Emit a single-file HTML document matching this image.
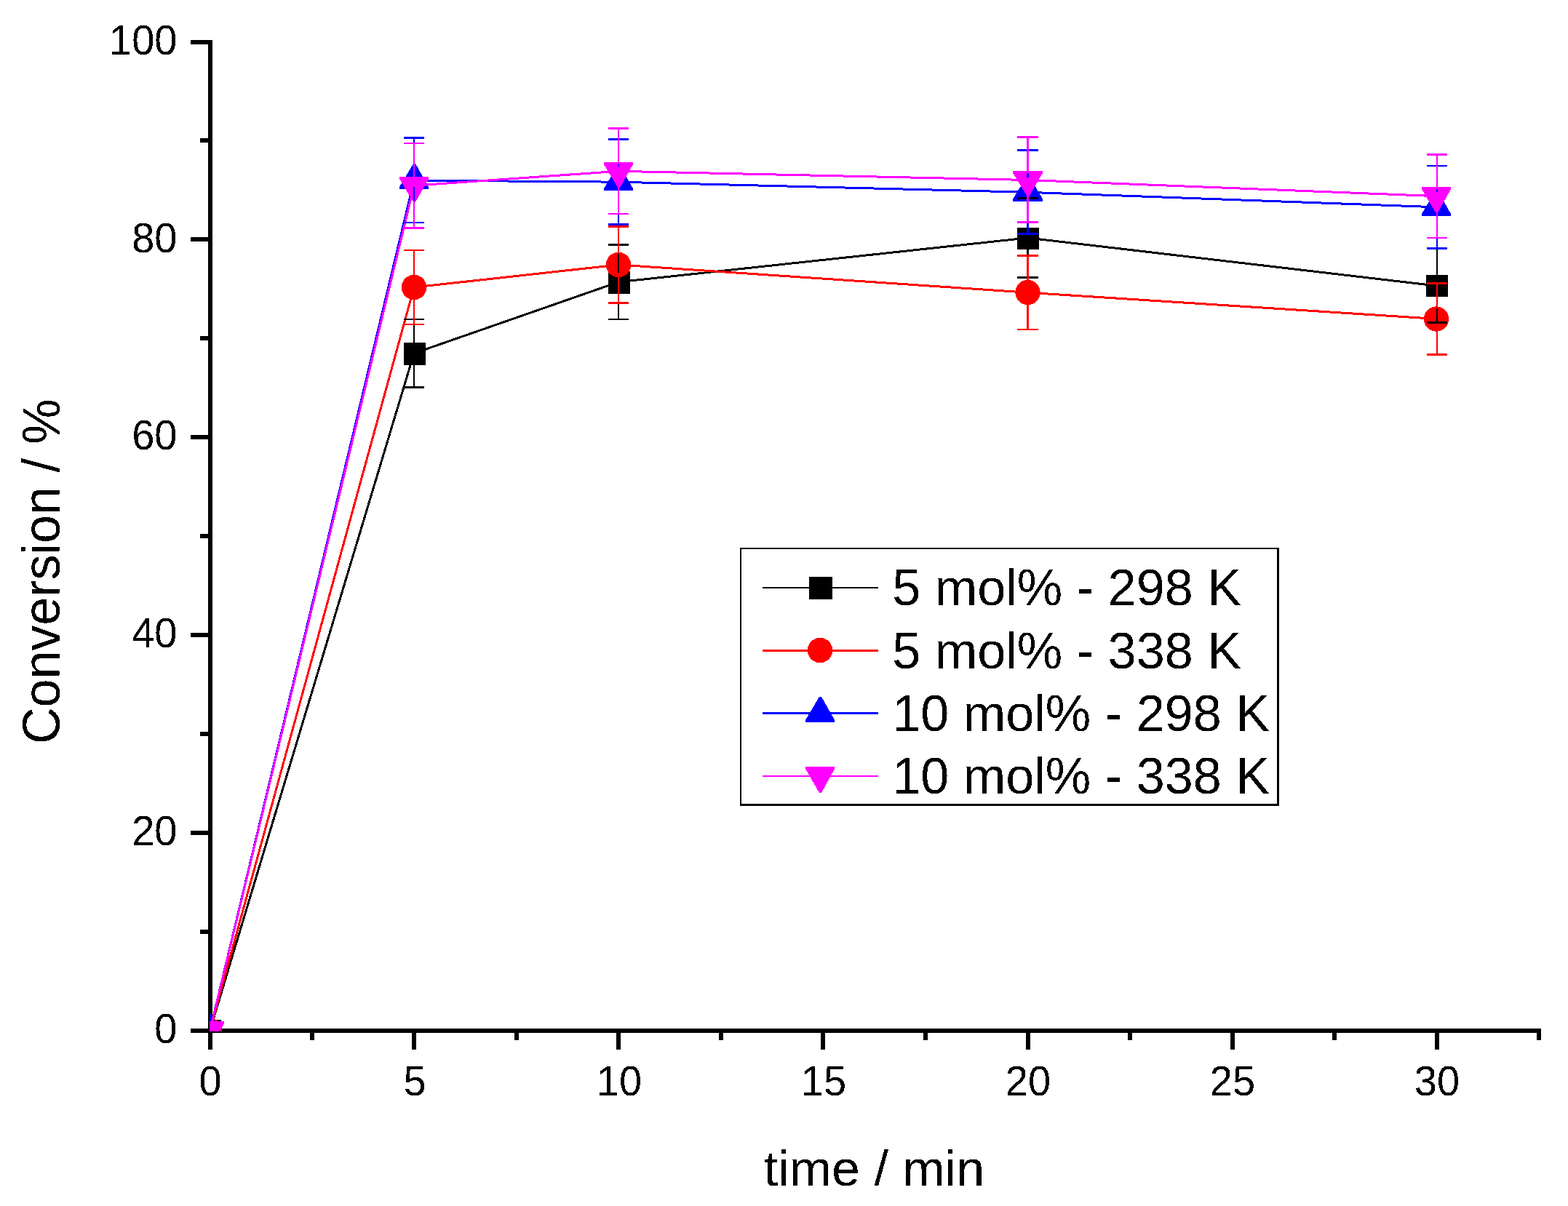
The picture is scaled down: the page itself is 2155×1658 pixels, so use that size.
<!DOCTYPE html>
<html lang="en"><head><meta charset="utf-8"><title>Conversion vs time</title>
<style>
html,body{margin:0;padding:0;background:#fff;}
body{width:2155px;height:1658px;overflow:hidden;}
svg{display:block;}
text{font-family:"Liberation Sans",Arial,Helvetica,sans-serif;fill:#000;}
.tk{font-size:56px;}
.tt{font-size:70px;}
.lg{font-size:70.2px;}
</style></head><body>
<svg width="2155" height="1658" viewBox="0 0 2155 1658">
<rect x="0" y="0" width="2155" height="1658" fill="#ffffff"/>
<defs><filter id="bin" x="0" y="0" width="100%" height="100%" filterUnits="userSpaceOnUse" color-interpolation-filters="sRGB"><feComponentTransfer><feFuncA type="discrete" tableValues="0 1"/></feComponentTransfer></filter></defs>
<g fill="#000" shape-rendering="crispEdges">
<rect x="286" y="55" width="6" height="1388"/>
<rect x="262" y="1414" width="1856" height="6"/>
<rect x="262" y="1414" width="26" height="6"/>
<rect x="275" y="1278" width="13" height="6"/>
<rect x="262" y="1142" width="26" height="6"/>
<rect x="275" y="1006" width="13" height="6"/>
<rect x="262" y="870" width="26" height="6"/>
<rect x="275" y="734" width="13" height="6"/>
<rect x="262" y="598" width="26" height="6"/>
<rect x="275" y="462" width="13" height="6"/>
<rect x="262" y="326" width="26" height="6"/>
<rect x="275" y="190" width="13" height="6"/>
<rect x="262" y="55" width="26" height="6"/>
<rect x="426" y="1417" width="6" height="13"/>
<rect x="566" y="1417" width="6" height="26"/>
<rect x="707" y="1417" width="6" height="13"/>
<rect x="847" y="1417" width="6" height="26"/>
<rect x="988" y="1417" width="6" height="13"/>
<rect x="1128" y="1417" width="6" height="26"/>
<rect x="1269" y="1417" width="6" height="13"/>
<rect x="1410" y="1417" width="6" height="26"/>
<rect x="1550" y="1417" width="6" height="13"/>
<rect x="1691" y="1417" width="6" height="26"/>
<rect x="1831" y="1417" width="6" height="13"/>
<rect x="1972" y="1417" width="6" height="26"/>
<rect x="2112" y="1417" width="6" height="13"/>
</g>
<g class="tk" filter="url(#bin)">
<text transform="translate(243.5,1434.2) scale(1,1.04)" text-anchor="end">0</text>
<text transform="translate(243.5,1162.2) scale(1,1.04)" text-anchor="end">20</text>
<text transform="translate(243.5,890.2) scale(1,1.04)" text-anchor="end">40</text>
<text transform="translate(243.5,618.2) scale(1,1.04)" text-anchor="end">60</text>
<text transform="translate(243.5,347.2) scale(1,1.04)" text-anchor="end">80</text>
<text transform="translate(243.5,75.2) scale(1,1.04)" text-anchor="end">100</text>
<text transform="translate(289.0,1505.6) scale(1,1.04)" text-anchor="middle">0</text>
<text transform="translate(570.0,1505.6) scale(1,1.04)" text-anchor="middle">5</text>
<text transform="translate(851.0,1505.6) scale(1,1.04)" text-anchor="middle">10</text>
<text transform="translate(1132.0,1505.6) scale(1,1.04)" text-anchor="middle">15</text>
<text transform="translate(1413.0,1505.6) scale(1,1.04)" text-anchor="middle">20</text>
<text transform="translate(1694.0,1505.6) scale(1,1.04)" text-anchor="middle">25</text>
<text transform="translate(1975.0,1505.6) scale(1,1.04)" text-anchor="middle">30</text>
</g>
<g class="tt" filter="url(#bin)">
<text transform="translate(1201.4,1630.3) scale(1,0.985)" text-anchor="middle">time / min</text>
<text transform="translate(81.3,785.6) rotate(-90) scale(1,1.025)" text-anchor="middle">Conversion / %</text>
</g>
<defs><clipPath id="pa"><rect x="288" y="50" width="1840" height="1368"/></clipPath></defs>
<g clip-path="url(#pa)" shape-rendering="crispEdges">
<polyline points="288.60,1416.50 569.00,485.75 850.00,387.75 1412.50,327.00 1975.00,393.00" fill="none" stroke="#000000" stroke-width="3" stroke-linejoin="round"/>
<rect x="274" y="1402" width="30" height="30" fill="#000000"/>
<rect x="555" y="471" width="30" height="31" fill="#000000"/>
<rect x="836" y="373" width="30" height="31" fill="#000000"/>
<rect x="1398" y="313" width="30" height="30" fill="#000000"/>
<rect x="1960" y="378" width="30" height="30" fill="#000000"/>
<polyline points="288.60,1416.50 569.00,395.00 850.00,364.00 1412.50,402.20 1975.00,438.50" fill="none" stroke="#ff0000" stroke-width="3" stroke-linejoin="round"/>
<circle cx="288.0" cy="1416.5" r="17.2" fill="#ff0000"/>
<circle cx="569.0" cy="395.0" r="17.2" fill="#ff0000"/>
<circle cx="850.0" cy="364.0" r="17.2" fill="#ff0000"/>
<circle cx="1412.5" cy="402.0" r="17.2" fill="#ff0000"/>
<circle cx="1974.0" cy="438.5" r="17.2" fill="#ff0000"/>
<polyline points="288.60,1416.50 569.00,248.00 850.00,250.20 1412.50,264.30 1975.00,284.80" fill="none" stroke="#0000ff" stroke-width="3" stroke-linejoin="round"/>
<polygon points="287.0,1393.8 290.0,1393.8 308.0,1425.8 308.0,1428.8 268.0,1428.8 268.0,1425.8" fill="#0000ff"/>
<polygon points="568.0,225.0 571.0,225.0 589.0,257.0 589.0,260.0 549.0,260.0 549.0,257.0" fill="#0000ff"/>
<polygon points="849.0,227.3 852.0,227.3 870.0,259.3 870.0,262.3 830.0,262.3 830.0,259.3" fill="#0000ff"/>
<polygon points="1411.5,241.8 1414.5,241.8 1433.0,273.8 1433.0,276.8 1392.0,276.8 1392.0,273.8" fill="#0000ff"/>
<polygon points="1973.0,262.0 1976.0,262.0 1994.0,294.0 1994.0,297.0 1954.0,297.0 1954.0,294.0" fill="#0000ff"/>
<polyline points="288.60,1416.50 569.00,255.20 850.00,235.30 1412.50,247.50 1975.00,269.70" fill="none" stroke="#ff00ff" stroke-width="3" stroke-linejoin="round"/>
<polygon points="268.0,1404.2 308.0,1404.2 308.0,1407.2 290.0,1439.2 287.0,1439.2 268.0,1407.2" fill="#ff00ff"/>
<polygon points="549.0,242.9 589.0,242.9 589.0,245.9 571.0,277.9 568.0,277.9 549.0,245.9" fill="#ff00ff"/>
<polygon points="830.0,223.0 870.0,223.0 870.0,226.0 852.0,258.0 849.0,258.0 830.0,226.0" fill="#ff00ff"/>
<polygon points="1392.0,234.7 1433.0,234.7 1433.0,237.7 1414.5,269.7 1411.5,269.7 1392.0,237.7" fill="#ff00ff"/>
<polygon points="1954.0,257.2 1994.0,257.2 1994.0,260.2 1976.0,292.2 1973.0,292.2 1954.0,260.2" fill="#ff00ff"/>
<rect x="568" y="438" width="2" height="35.0" fill="#000000"/>
<rect x="568" y="500.0" width="2" height="34.0" fill="#000000"/>
<rect x="555" y="438" width="28" height="2" fill="#000000"/>
<rect x="555" y="531" width="28" height="3" fill="#000000"/>
<rect x="849" y="335" width="2" height="40.0" fill="#000000"/>
<rect x="849" y="402.0" width="2" height="38.0" fill="#000000"/>
<rect x="836" y="335" width="28" height="3" fill="#000000"/>
<rect x="836" y="438" width="28" height="2" fill="#000000"/>
<rect x="1411" y="271" width="3" height="43.5" fill="#000000"/>
<rect x="1411" y="341.5" width="3" height="41.5" fill="#000000"/>
<rect x="1398" y="271" width="29" height="3" fill="#000000"/>
<rect x="1398" y="380" width="29" height="3" fill="#000000"/>
<rect x="1974" y="340" width="2" height="39.5" fill="#000000"/>
<rect x="1974" y="406.5" width="2" height="38.5" fill="#000000"/>
<rect x="1961" y="340" width="28" height="3" fill="#000000"/>
<rect x="1961" y="442" width="28" height="3" fill="#000000"/>
<rect x="568" y="343" width="2" height="37.0" fill="#ff0000"/>
<rect x="568" y="410.0" width="2" height="37.0" fill="#ff0000"/>
<rect x="555" y="343" width="28" height="2" fill="#ff0000"/>
<rect x="555" y="445" width="28" height="2" fill="#ff0000"/>
<rect x="849" y="310" width="2" height="39.0" fill="#ff0000"/>
<rect x="849" y="379.0" width="2" height="39.0" fill="#ff0000"/>
<rect x="836" y="310" width="28" height="3" fill="#ff0000"/>
<rect x="836" y="415" width="28" height="3" fill="#ff0000"/>
<rect x="1411" y="350" width="3" height="37.0" fill="#ff0000"/>
<rect x="1411" y="417.0" width="3" height="37.0" fill="#ff0000"/>
<rect x="1398" y="350" width="29" height="3" fill="#ff0000"/>
<rect x="1398" y="452" width="29" height="2" fill="#ff0000"/>
<rect x="1974" y="388" width="2" height="35.5" fill="#ff0000"/>
<rect x="1974" y="453.5" width="2" height="35.5" fill="#ff0000"/>
<rect x="1961" y="388" width="28" height="3" fill="#ff0000"/>
<rect x="1961" y="486" width="28" height="3" fill="#ff0000"/>
<rect x="568" y="188" width="2" height="39.0" fill="#0000ff"/>
<rect x="568" y="257.2" width="2" height="49.8" fill="#0000ff"/>
<rect x="555" y="188" width="28" height="3" fill="#0000ff"/>
<rect x="555" y="305" width="28" height="2" fill="#0000ff"/>
<rect x="849" y="190" width="2" height="39.3" fill="#0000ff"/>
<rect x="849" y="259.5" width="2" height="50.5" fill="#0000ff"/>
<rect x="836" y="190" width="28" height="3" fill="#0000ff"/>
<rect x="836" y="307" width="28" height="3" fill="#0000ff"/>
<rect x="1411" y="205" width="3" height="38.8" fill="#0000ff"/>
<rect x="1411" y="274.0" width="3" height="49.0" fill="#0000ff"/>
<rect x="1398" y="205" width="29" height="3" fill="#0000ff"/>
<rect x="1398" y="320" width="29" height="3" fill="#0000ff"/>
<rect x="1974" y="227" width="2" height="37.0" fill="#0000ff"/>
<rect x="1974" y="294.2" width="2" height="48.8" fill="#0000ff"/>
<rect x="1961" y="227" width="28" height="2" fill="#0000ff"/>
<rect x="1961" y="340" width="28" height="3" fill="#0000ff"/>
<rect x="568" y="196" width="2" height="49.7" fill="#ff00ff"/>
<rect x="568" y="275.9" width="2" height="39.1" fill="#ff00ff"/>
<rect x="555" y="196" width="28" height="2" fill="#ff00ff"/>
<rect x="555" y="312" width="28" height="3" fill="#ff00ff"/>
<rect x="849" y="175" width="2" height="50.8" fill="#ff00ff"/>
<rect x="849" y="256.0" width="2" height="39.0" fill="#ff00ff"/>
<rect x="836" y="175" width="28" height="3" fill="#ff00ff"/>
<rect x="836" y="293" width="28" height="2" fill="#ff00ff"/>
<rect x="1411" y="187" width="3" height="50.5" fill="#ff00ff"/>
<rect x="1411" y="267.7" width="3" height="39.3" fill="#ff00ff"/>
<rect x="1398" y="187" width="29" height="3" fill="#ff00ff"/>
<rect x="1398" y="304" width="29" height="3" fill="#ff00ff"/>
<rect x="1974" y="211" width="2" height="49.0" fill="#ff00ff"/>
<rect x="1974" y="290.2" width="2" height="37.8" fill="#ff00ff"/>
<rect x="1961" y="211" width="28" height="3" fill="#ff00ff"/>
<rect x="1961" y="326" width="28" height="2" fill="#ff00ff"/>
</g>
<g shape-rendering="crispEdges">
<rect x="1017" y="753" width="741" height="355" fill="#000"/>
<rect x="1019" y="755" width="736" height="350" fill="#fff"/>
<rect x="1048" y="807" width="159" height="2" fill="#000000"/>
<rect x="1112.0" y="793.0" width="32" height="31" fill="#000000"/>
<rect x="1048" y="893" width="159" height="3" fill="#ff0000"/>
<circle cx="1127.0" cy="894.0" r="17.2" fill="#ff0000"/>
<rect x="1048" y="979" width="159" height="3" fill="#0000ff"/>
<polygon points="1126.0,957.9 1129.0,957.9 1147.0,989.9 1147.0,992.9 1107.0,992.9 1107.0,989.9" fill="#0000ff"/>
<rect x="1048" y="1066" width="159" height="2" fill="#ff00ff"/>
<polygon points="1107,1054 1147,1054 1147,1057 1129,1090 1126,1090 1107,1057" fill="#ff00ff"/>
</g>
<g class="lg" filter="url(#bin)">
<text x="1226.2" y="832.4">5 mol% - 298 K</text>
<text x="1226.2" y="918.6">5 mol% - 338 K</text>
<text x="1226.2" y="1005.1">10 mol% - 298 K</text>
<text x="1226.2" y="1091.2">10 mol% - 338 K</text>
</g>
</svg>
</body></html>
